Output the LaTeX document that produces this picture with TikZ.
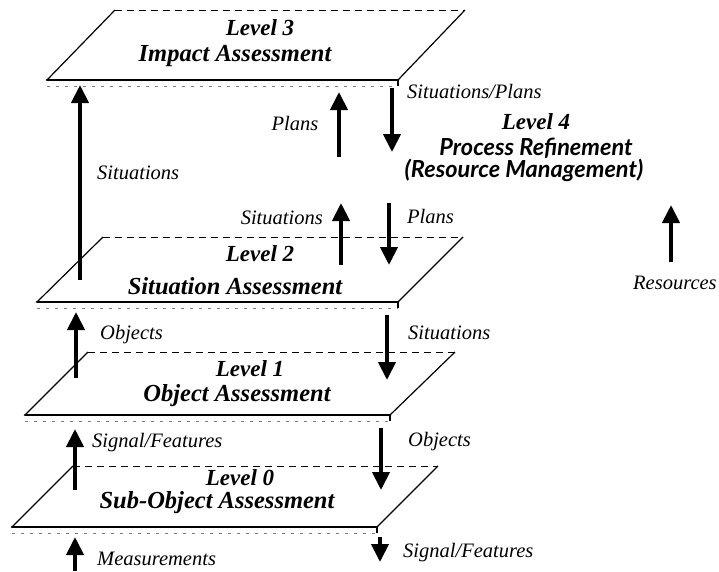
\documentclass[tikz,border=0pt]{standalone}
\usepackage{fontspec}
\setmainfont{Liberation Serif}
\newfontfamily\optfont{Lato}
\usetikzlibrary{arrows.meta,calc}
\begin{document}
\begin{tikzpicture}[x=1pt,y=-1pt,
  side/.style={line width=1.2pt},
  front/.style={line width=2.8pt, line cap=round},
  back/.style={line width=0.9pt, dash pattern=on 7pt off 5pt},
  thick edge/.style={line width=0.7pt, gray, dash pattern=on 3pt off 6pt},
  flow/.style={line width=4pt, -{Triangle[width=17pt,length=18pt]}},
  lbl/.style={font=\fontsize{20.5}{22}\selectfont\itshape, inner sep=0pt},
  titlea/.style={font=\fontsize{23}{25}\selectfont\bfseries\itshape, inner sep=0pt},
  titleb/.style={font=\fontsize{24.5}{26}\selectfont\bfseries\itshape, inner sep=0pt},
  lfour/.style={font=\fontsize{23.5}{25}\selectfont\optfont\bfseries\itshape, inner sep=0pt}]
\useasboundingbox (0,0) rectangle (719,571);
% plates: front-left, front-right, back-left, back-right
\foreach \n/\flx/\fly/\frx/\blx/\bly/\brx in {3/47/80/398/115/10/465, 2/37/302/398/103/237/463, 1/25/415/390/88/352/455, 0/12/527/377/73/466/438}{
  \coordinate (p\n fl) at (\flx,\fly);
  \coordinate (p\n fr) at (\frx,\fly);
  \coordinate (p\n bl) at (\blx,\bly);
  \coordinate (p\n br) at (\brx,\bly);
  \fill[white] (p\n fl) -- (p\n fr) -- (p\n br) -- (p\n bl) -- cycle;
  \draw[back] (p\n bl) -- (p\n br);
  \draw[side] (p\n fl) -- (p\n bl);
  \draw[side] (p\n fr) -- (p\n br);
  \draw[thick edge] ($(p\n fl)+(0,6)$) -- ($(p\n fr)+(0,6)$);
  \draw[side] (p\n fr) -- ++(0,6);
  \draw[front] (p\n fl) -- (p\n fr);
}
% titles
\node[titlea] (t3a) at (260,28) {Level 3};
\node[titleb] (t3b) at (235,56) {Impact Assessment};
\node[titlea] (t2a) at (260,254) {Level 2};
\node[titleb] (t2b) at (235,286) {Situation Assessment};
\node[titlea] (t1a) at (250,369) {Level 1};
\node[titleb] (t1b) at (237,396) {Object Assessment};
\node[titlea, fill=white] (t0a) at (240,478) {Level 0};
\node[titleb] (t0b) at (217,503) {Sub-Object Assessment};
\node[titlea] (t4a) at (536,122) {Level 4};
\node[lfour] (t4b) at (536,148) {Process Refinement};
\node[lfour] (t4c) at (524,170) {(Resource Management)};
% arrow endpoints
\coordinate (a1s) at (80,280);  \coordinate (a1e) at (80,85);
\coordinate (a2s) at (339,157); \coordinate (a2e) at (339,92);
\coordinate (a3s) at (392,88);  \coordinate (a3e) at (392,152);
\coordinate (a4s) at (341,265); \coordinate (a4e) at (341,203);
\coordinate (a5s) at (389,203); \coordinate (a5e) at (389,265);
\coordinate (a6s) at (671,262); \coordinate (a6e) at (671,205);
\coordinate (a7s) at (76,378);  \coordinate (a7e) at (76,312);
\coordinate (a8s) at (387,315); \coordinate (a8e) at (387,380);
\coordinate (a9s) at (75,490);  \coordinate (a9e) at (75,429);
\coordinate (a10s) at (381,428); \coordinate (a10e) at (381,490);
\coordinate (a11s) at (75,571); \coordinate (a11e) at (75,537);
\coordinate (a12s) at (380,537); \coordinate (a12e) at (380,562);
\foreach \i in {1,...,12}{\draw[flow] (a\i s) -- (a\i e);}
% labels
\node[lbl, anchor=west] (l1) at (97,173) {Situations};
\node[lbl] (l2) at (295,123) {Plans};
\node[lbl, anchor=west] (l3) at (407,92) {Situations/Plans};
\node[lbl, anchor=east] (l4) at (323,218) {Situations};
\node[lbl, anchor=west] (l5) at (407,216) {Plans};
\node[lbl, anchor=west] (l6) at (633,283) {Resources};
\node[lbl, anchor=west] (l7) at (100,335) {Objects};
\node[lbl, anchor=west] (l8) at (408,333) {Situations};
\node[lbl, anchor=west] (l9) at (92,443) {Signal/Features};
\node[lbl, anchor=west] (l10) at (408,442) {Objects};
\node[lbl, anchor=west] (l11) at (97,559) {Measurements};
\node[lbl, anchor=west] (l12) at (403,553) {Signal/Features};
\end{tikzpicture}
\end{document}
